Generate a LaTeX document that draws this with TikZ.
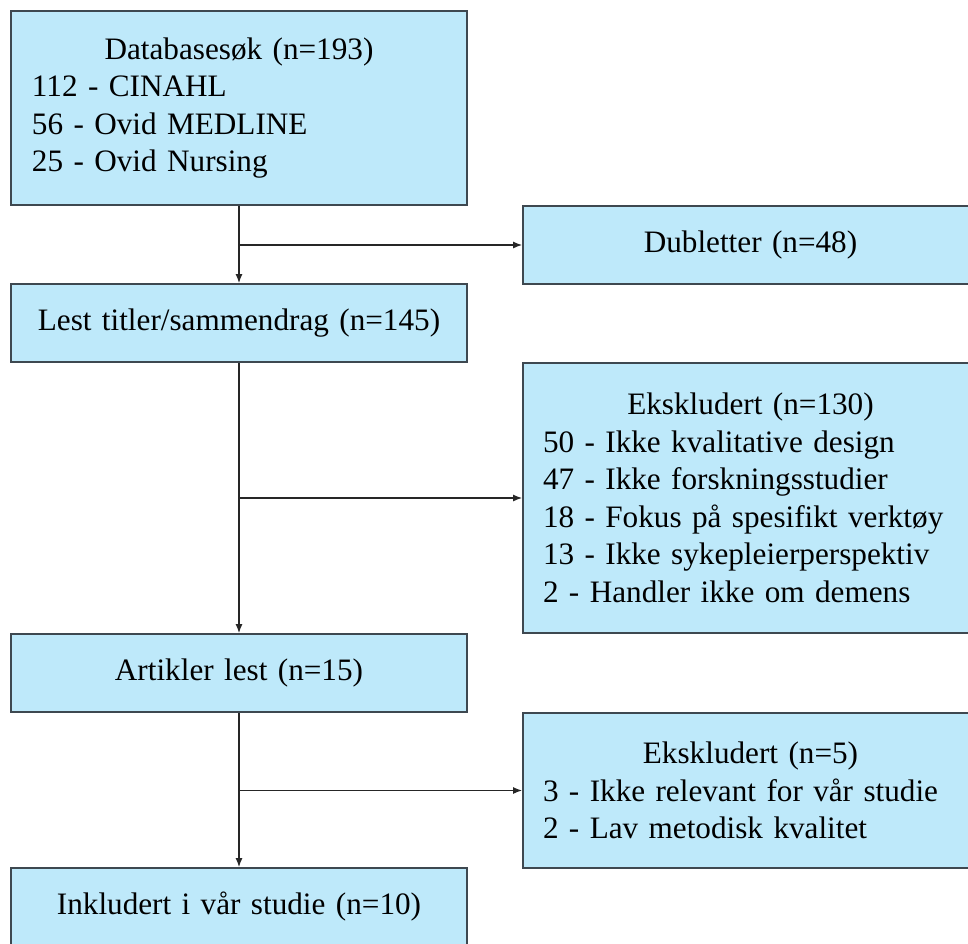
\documentclass[tikz,border=0pt]{standalone}
\usepackage{fontspec}
\setmainfont{Liberation Serif}
\usepackage{xcolor}
\definecolor{flowblue}{HTML}{BEE9FA}
\definecolor{flowedge}{HTML}{3E4850}
\usetikzlibrary{arrows.meta, positioning}

\begin{document}
\begin{tikzpicture}[x=0.5pt, y=-0.5pt,
    box/.style={draw=flowedge, fill=flowblue, line width=0.9pt, rectangle,
      font=\fontsize{15.6}{18.75}\selectfont, align=left, inner ysep=0pt},
    leftbox/.style={box, text width=207pt, inner xsep=10.5pt},
    rightbox/.style={box, text width=207.5pt, inner xsep=10pt},
    arr/.style={-{Latex[length=4.5pt, width=3.5pt]}, line width=0.65pt, color=black!85}]
        % page frame, right column runs past the edge
        \useasboundingbox (0,0) rectangle (968,943);
        \clip (0,0) rectangle (968,943);

        % main column
        \node[leftbox, minimum height=97pt] (db) at (239,108)
          {\noindent\makebox[\hsize]{Databasesøk (n=193)}\\
           112 - CINAHL\\56 - Ovid MEDLINE\\25 - Ovid Nursing};
        \node[leftbox, minimum height=39pt, align=center] (lest) at (239,323)
          {Lest titler/sammendrag (n=145)};
        \node[leftbox, minimum height=39pt, align=center] (art) at (239,673)
          {Artikler lest (n=15)};
        \node[leftbox, minimum height=39pt, align=center] (inkl) at (239,907)
          {Inkludert i vår studie (n=10)};

        % excluded records on the right
        \node[rightbox, minimum height=39pt, align=center] (dub) at (750.5,245)
          {Dubletter (n=48)};
        \node[rightbox, minimum height=135pt] (eks1) at (750.5,498)
          {\noindent\makebox[\hsize]{Ekskludert (n=130)}\\
           50 - Ikke kvalitative design\\47 - Ikke forskningsstudier\\
           18 - Fokus på spesifikt verktøy\\13 - Ikke sykepleierperspektiv\\
           2 - Handler ikke om demens};
        \node[rightbox, minimum height=77.5pt] (eks2) at (750.5,790.5)
          {\noindent\makebox[\hsize]{Ekskludert (n=5)}\\
           3 - Ikke relevant for vår studie\\2 - Lav metodisk kvalitet};

        \draw[arr] (db) -- (lest);
        \draw[arr] (dub.west -| db.south) -- (dub.west);
        \draw[arr] (lest) -- (art);
        \draw[arr] (eks1.west -| lest.south) -- (eks1.west);
        \draw[arr] (art) -- (inkl);
        \draw[arr] (eks2.west -| art.south) -- (eks2.west);
      \end{tikzpicture}
\end{document}
